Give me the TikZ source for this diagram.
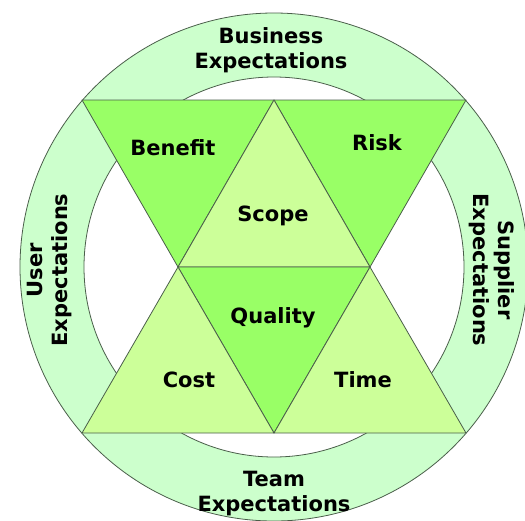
\documentclass[tikz,border=0pt]{standalone}
\usepackage{fontspec}
\setmainfont{DejaVu Sans}
\usetikzlibrary{calc}
\definecolor{ringgreen}{HTML}{CCFFCC}
\definecolor{darkgreen}{HTML}{99FF66}
\definecolor{lightgreen}{HTML}{CCFF99}
\definecolor{edgegray}{HTML}{4A5E4A}

\tikzset{
    tri/.style={draw=edgegray, line width=0.8pt, line join=round},
    lbl/.style={font=\fontsize{21}{25}\selectfont\bfseries, align=center, inner sep=0pt},
}

\begin{document}
\begin{tikzpicture}[x=1pt,y=-1pt]

    \useasboundingbox (0,0) rectangle (525,520);

    \coordinate (O) at (274,267);

    % outer ring
    \fill[ringgreen, even odd rule] (O) circle (254pt) (O) circle (190pt);
    \draw[edgegray, line width=0.8pt] (O) circle (254pt);
    \draw[edgegray, line width=0.8pt] (O) circle (190pt);

    \coordinate (A) at (82,100);
    \coordinate (B) at (274,100);
    \coordinate (C) at (466,100);
    \coordinate (D) at (178,267);
    \coordinate (E) at (370,267);
    \coordinate (F) at (82,433);
    \coordinate (G) at (274,433);
    \coordinate (H) at (466,433);

    \foreach \p/\q/\r/\col in {A/B/D/darkgreen, B/C/E/darkgreen, B/D/E/lightgreen,
                               D/E/G/darkgreen, D/F/G/lightgreen, E/G/H/lightgreen}
        \filldraw[tri, fill=\col] (\p) -- (\q) -- (\r) -- cycle;

    \node[lbl] (benefit) at (173,148) {Benefit};
    \node[lbl] (risk)    at (377,143) {Risk};
    \node[lbl] (scope)   at (273,216) {Scope};
    \node[lbl] (quality) at (273,318) {Quality};
    \node[lbl] (cost)    at (189,380) {Cost};
    \node[lbl] (time)    at (363,380) {Time};

    \node[lbl] (business) at (271,50)  {Business\\Expectations};
    \node[lbl] (team)     at (274,494) {Team\\Expectations};
    \node[lbl, rotate=90]  (user)     at (50,270)  {User\\Expectations};
    \node[lbl, rotate=-90] (supplier) at (492,270) {Supplier\\Expectations};

\end{tikzpicture}
\end{document}
